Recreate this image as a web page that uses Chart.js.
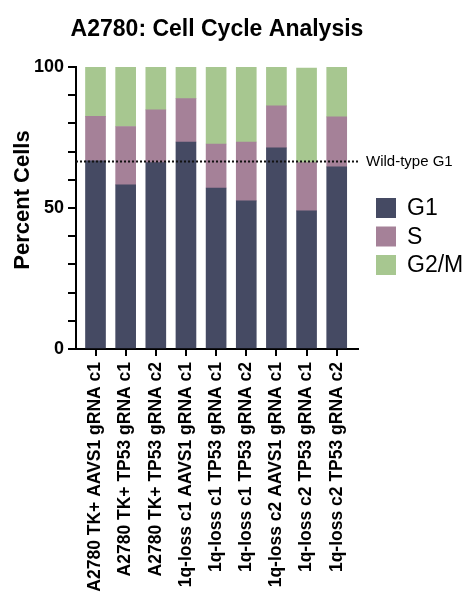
<!DOCTYPE html>
<html>
<head>
<meta charset="utf-8">
<title>A2780: Cell Cycle Analysis</title>
<script src="https://cdn.jsdelivr.net/npm/chart.js@4"></script>
<style>
  html, body { margin: 0; padding: 0; background: #ffffff; }
  #wrap { width: 467px; height: 601px; }
</style>
</head>
<body>
<div id="wrap"><canvas id="chart" width="467" height="601"></canvas></div>
<script>
// Samples (x axis)
const categories = [
  'A2780 TK+ AAVS1 gRNA c1',
  'A2780 TK+ TP53 gRNA c1',
  'A2780 TK+ TP53 gRNA c2',
  '1q-loss c1 AAVS1 gRNA c1',
  '1q-loss c1 TP53 gRNA c1',
  '1q-loss c1 TP53 gRNA c2',
  '1q-loss c2 AAVS1 gRNA c1',
  '1q-loss c2 TP53 gRNA c1',
  '1q-loss c2 TP53 gRNA c2'
];

// Percent of cells in each phase
const g1  = [66.7, 58.2, 66.1, 73.4, 57.1, 52.5, 71.3, 49.0, 64.6];
const s   = [15.8, 20.7, 18.7, 15.4, 15.6, 20.9, 14.9, 17.1, 17.7];
const g2m = [17.5, 21.1, 15.2, 11.2, 27.3, 26.6, 13.8, 33.5, 17.7];

// Y axis ticks with labels
const yTickLabels = [0, 50, 100];

// Reference level: G1 fraction of the wild-type sample
const wildTypeG1 = g1[0];
const refLabel = 'Wild-type G1';

const FONT = "'Liberation Sans', Arial, Helvetica, sans-serif";
const COLORS = { g1: '#454a63', s: '#a58198', g2m: '#a7c790' };

const toPoints = arr => arr.map((v, i) => ({ x: i, y: v }));

// Title, y title, reference line and legend
const decorations = {
  id: 'decorations',
  afterDatasetsDraw(chart) {
    const { ctx, chartArea, scales } = chart;
    const y = Math.round(scales.y.getPixelForValue(wildTypeG1)) + 0.5;
    ctx.save();
    ctx.strokeStyle = '#111111';
    ctx.lineWidth = 2;
    ctx.setLineDash([2, 2]);
    ctx.beginPath();
    ctx.moveTo(chartArea.left, y);
    ctx.lineTo(chartArea.right, y);
    ctx.stroke();
    ctx.setLineDash([]);
    ctx.fillStyle = '#000000';
    ctx.font = '15px ' + FONT;
    ctx.textAlign = 'left';
    ctx.textBaseline = 'middle';
    ctx.fillText(refLabel, chartArea.right + 8, y);
    ctx.restore();
  },
  afterDraw(chart) {
    const { ctx, chartArea } = chart;
    ctx.save();
    ctx.fillStyle = '#000000';
    // chart title
    ctx.font = 'bold 23px ' + FONT;
    ctx.textAlign = 'center';
    ctx.textBaseline = 'middle';
    ctx.fillText('A2780: Cell Cycle Analysis', (chartArea.left + chartArea.right) / 2, 30);
    // y axis title
    ctx.save();
    ctx.translate(23, 200);
    ctx.rotate(-Math.PI / 2);
    ctx.font = 'bold 22px ' + FONT;
    ctx.fillText('Percent Cells', 0, 0);
    ctx.restore();
    // legend
    const items = chart.data.datasets;
    items.forEach((ds, i) => {
      const cy = 208 + i * 28.5;
      ctx.fillStyle = ds.backgroundColor;
      ctx.fillRect(376, cy - 10, 20, 20);
      ctx.fillStyle = '#000000';
      ctx.font = '23px ' + FONT;
      ctx.textAlign = 'left';
      ctx.textBaseline = 'middle';
      ctx.fillText(ds.label, 407, cy + 1);
    });
    ctx.restore();
  }
};

new Chart(document.getElementById('chart'), {
  type: 'bar',
  data: {
    datasets: [
      { label: 'G1',   data: toPoints(g1),  backgroundColor: COLORS.g1 },
      { label: 'S',    data: toPoints(s),   backgroundColor: COLORS.s },
      { label: 'G2/M', data: toPoints(g2m), backgroundColor: COLORS.g2m }
    ]
  },
  options: {
    responsive: false,
    animation: false,
    devicePixelRatio: 1,
    layout: { padding: { top: 67, right: 109, left: 0, bottom: 0 } },
    datasets: { bar: { barThickness: 20, borderWidth: 0 } },
    plugins: {
      legend: { display: false },
      title: { display: false },
      tooltip: { enabled: false }
    },
    scales: {
      x: {
        type: 'linear',
        stacked: true,
        offset: false,
        min: -0.647,
        max: 8.706,
        afterFit: sc => { sc.height = 252; },
        border: { display: true, color: '#000000', width: 2 },
        grid: { display: true, offset: false, drawOnChartArea: false, drawTicks: true, tickLength: 7, color: '#000000', lineWidth: 2 },
        ticks: {
          stepSize: 1,
          includeBounds: false,
          autoSkip: false,
          maxRotation: 90,
          minRotation: 90,
          padding: 6,
          color: '#000000',
          font: { family: FONT, size: 17.5, weight: 'bold' },
          callback: v => (Number.isInteger(v) && categories[v] !== undefined) ? categories[v] : null
        }
      },
      y: {
        stacked: true,
        min: 0,
        max: 100,
        afterFit: sc => { sc.width = 76; },
        border: { display: true, color: '#000000', width: 2 },
        grid: { display: true, drawOnChartArea: false, drawTicks: true, tickLength: 8, color: '#000000', lineWidth: 2 },
        ticks: {
          stepSize: 10,
          padding: 4,
          color: '#000000',
          font: { family: FONT, size: 18, weight: 'bold' },
          callback: v => yTickLabels.includes(v) ? String(v) : ''
        }
      }
    }
  },
  plugins: [decorations]
});
</script>
</body>
</html>
